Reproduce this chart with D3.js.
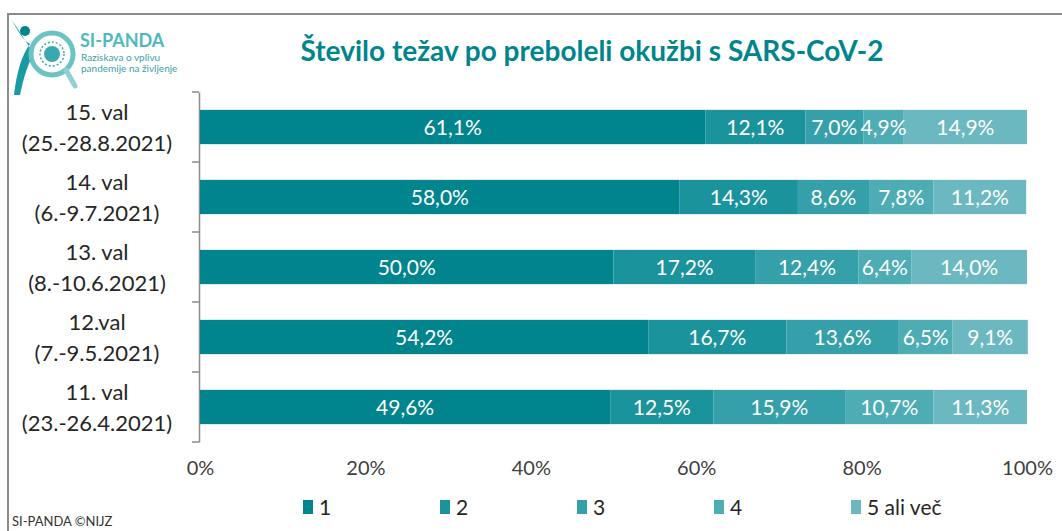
<!DOCTYPE html>
<html>
<head>
<meta charset="utf-8">
<script src="https://cdn.jsdelivr.net/npm/d3@7"></script>
<style>
  body { margin: 0; background: #fff; }
  svg { display: block; font-family: Lato, 'Noto Sans', sans-serif; }
</style>
</head>
<body>
<svg id="chart" width="1062" height="531"></svg>
<script>
const waves = [
  ['15. val', '(25.-28.8.2021)'],
  ['14. val', '(6.-9.7.2021)'],
  ['13. val', '(8.-10.6.2021)'],
  ['12.val', '(7.-9.5.2021)'],
  ['11. val', '(23.-26.4.2021)'],
];
const seriesNames = ['1', '2', '3', '4', '5 ali več'];
const s1 = [61.1, 58.0, 50.0, 54.2, 49.6];
const s2 = [12.1, 14.3, 17.2, 16.7, 12.5];
const s3 = [7.0, 8.6, 12.4, 13.6, 15.9];
const s4 = [4.9, 7.8, 6.4, 6.5, 10.7];
const s5 = [14.9, 11.2, 14.0, 9.1, 11.3];
const xTicks = [0, 20, 40, 60, 80, 100];
const colors = ['#00858e', '#1b939d', '#35a0a9', '#4eacb5', '#6bb8c0'];

const svg = d3.select('#chart');
const width = +svg.attr('width');
const height = +svg.attr('height');
const padding = { top: 92, right: 35, bottom: 89, left: 200 };

// frame
svg.append('path')
  .attr('d', 'M8,' + height + ' V14 H' + width)
  .attr('fill', 'none')
  .attr('stroke', '#8c8c8c')
  .attr('stroke-width', 2);

// logo (simplified)
const logo = svg.append('g');
logo.append('path')
  .attr('d', 'M12,20 Q22,40 30,44 Q18,60 14,95 L20,95 Q26,66 34,54 Z')
  .attr('fill', '#1a9aa2');
logo.append('circle').attr('cx', 25).attr('cy', 31).attr('r', 5).attr('fill', '#00858e');
logo.append('circle')
  .attr('cx', 52).attr('cy', 54).attr('r', 21)
  .attr('fill', '#fff').attr('stroke', '#6cc3c6').attr('stroke-width', 5);
logo.append('line')
  .attr('x1', 66).attr('y1', 70).attr('x2', 75).attr('y2', 86)
  .attr('stroke', '#8fd0d2').attr('stroke-width', 5).attr('stroke-linecap', 'round');
logo.append('circle').attr('cx', 52).attr('cy', 54).attr('r', 8).attr('fill', '#3aa8b0');
logo.append('circle').attr('cx', 52).attr('cy', 54).attr('r', 12)
  .attr('fill', 'none').attr('stroke', '#3aa8b0').attr('stroke-width', 1.5).attr('stroke-dasharray', '2 2');
logo.append('text')
  .attr('x', 80).attr('y', 47)
  .attr('font-size', 18).attr('font-weight', 'bold')
  .attr('fill', '#4fb9be')
  .text('SI-PANDA');
logo.append('text')
  .attr('x', 81).attr('y', 61)
  .attr('font-size', 10).attr('fill', '#3d9fa6')
  .text('Raziskava o vplivu');
logo.append('text')
  .attr('x', 81).attr('y', 72)
  .attr('font-size', 10).attr('fill', '#3d9fa6')
  .text('pandemije na življenje');

// title
svg.append('text')
  .attr('x', 592).attr('y', 61)
  .attr('text-anchor', 'middle')
  .attr('font-size', 28).attr('font-weight', 'bold')
  .attr('fill', '#00858e')
  .text('Število težav po preboleli okužbi s SARS-CoV-2');

const data = waves.map((w, i) => ({
  key: i,
  label: w,
  values: [s1[i], s2[i], s3[i], s4[i], s5[i]],
}));

const xScale = d3.scaleLinear()
  .domain([0, 100])
  .range([padding.left, width - padding.right]);

const yScale = d3.scaleBand()
  .domain(data.map(d => d.key))
  .range([padding.top, height - padding.bottom])
  .paddingInner(0.51)
  .paddingOuter(0.255);

// y axis
const yAxis = d3.axisLeft(d3.scaleBand().domain(data.map(d => d.key)).range(yScale.range()))
  .tickSize(0).tickFormat('');
svg.append('g')
  .attr('transform', 'translate(' + (padding.left - 1) + ',0)')
  .call(yAxis)
  .call(g => g.select('.domain').attr('stroke', '#8c8c8c').attr('stroke-width', 1.5));

// band boundary ticks
const bounds = d3.range(data.length + 1).map(i => yScale.range()[0] + i * yScale.step());
svg.append('g').selectAll('line')
  .data(bounds)
  .join('line')
  .attr('x1', padding.left - 8).attr('x2', padding.left - 1)
  .attr('y1', d => d).attr('y2', d => d)
  .attr('stroke', '#8c8c8c').attr('stroke-width', 1.5);

// category labels
const labels = svg.append('g').selectAll('text')
  .data(data)
  .join('text')
  .attr('text-anchor', 'middle')
  .attr('font-size', 22)
  .attr('fill', '#262626');
labels.append('tspan')
  .attr('x', 97)
  .attr('y', d => yScale(d.key) + yScale.bandwidth() / 2 - 7)
  .text(d => d.label[0]);
labels.append('tspan')
  .attr('x', 97)
  .attr('y', d => yScale(d.key) + yScale.bandwidth() / 2 + 24)
  .text(d => d.label[1]);

// stacked segments
const segs = data.flatMap(d => {
  let acc = 0;
  return d.values.map((v, j) => {
    const s = { key: d.key, j, x0: acc, x1: acc + v, v };
    acc += v;
    return s;
  });
});

svg.append('g').selectAll('rect')
  .data(segs)
  .join('rect')
  .attr('x', d => xScale(d.x0))
  .attr('y', d => yScale(d.key))
  .attr('width', d => xScale(d.x1) - xScale(d.x0))
  .attr('height', yScale.bandwidth())
  .attr('fill', d => colors[d.j]);

svg.append('g').selectAll('text')
  .data(segs)
  .join('text')
  .attr('x', d => (xScale(d.x0) + xScale(d.x1)) / 2)
  .attr('y', d => yScale(d.key) + yScale.bandwidth() / 2 + 8)
  .attr('text-anchor', 'middle')
  .attr('font-size', 21)
  .attr('fill', '#fff')
  .text(d => d.v.toFixed(1).replace('.', ',') + '%');

// x axis (labels only)
const xAxis = d3.axisBottom(xScale)
  .tickValues(xTicks)
  .tickSize(0)
  .tickPadding(19)
  .tickFormat(d => d + '%');
svg.append('g')
  .attr('transform', 'translate(0,' + (height - padding.bottom) + ')')
  .call(xAxis)
  .call(g => g.select('.domain').remove())
  .call(g => g.selectAll('text')
    .attr('font-size', 20)
    .attr('font-family', 'Lato, sans-serif')
    .attr('fill', '#404040'));

// legend
const legend = svg.append('g').selectAll('g')
  .data(seriesNames)
  .join('g')
  .attr('transform', (d, i) => 'translate(' + (303 + i * 137) + ',507)');
legend.append('rect')
  .attr('x', 0).attr('y', -7)
  .attr('width', 10).attr('height', 14)
  .attr('fill', (d, i) => colors[i]);
legend.append('text')
  .attr('x', 16).attr('y', 8)
  .attr('font-size', 21)
  .attr('fill', '#262626')
  .text(d => d);

// credit
svg.append('text')
  .attr('x', 12).attr('y', 526)
  .attr('font-size', 13)
  .attr('fill', '#333')
  .text('SI-PANDA ©NIJZ');
</script>
</body>
</html>
